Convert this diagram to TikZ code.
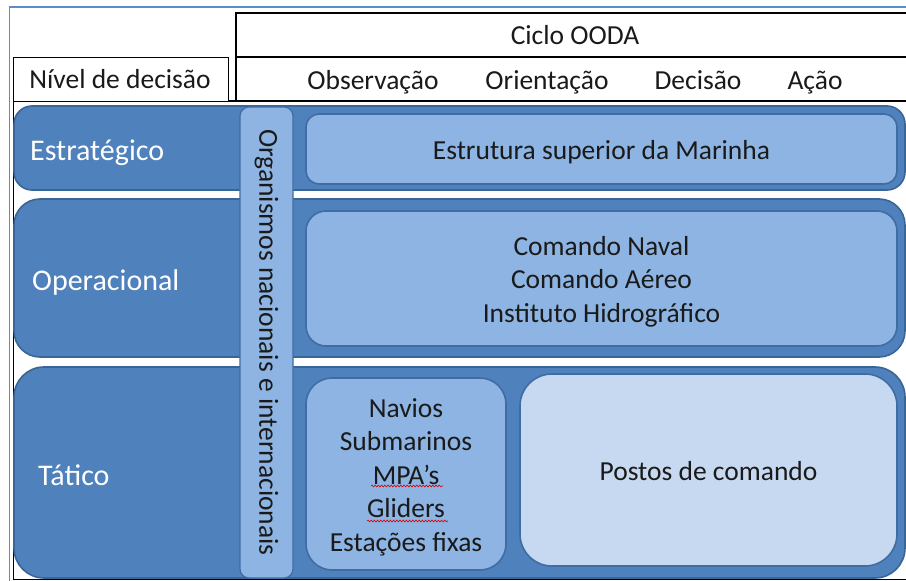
\documentclass[tikz,border=0pt]{standalone}
\usepackage{fontspec}
\setmainfont{Carlito}
\usetikzlibrary{decorations.pathmorphing}
\definecolor{rowfill}{HTML}{4F81BD}
\definecolor{rowline}{HTML}{3A6597}
\definecolor{innerfill}{HTML}{8DB4E2}
\definecolor{innerline}{HTML}{3F6CA3}
\definecolor{paler}{HTML}{C6D9F1}
\definecolor{framecol}{HTML}{5B8CD0}
\definecolor{txt}{HTML}{1A1A1A}
\tikzset{
  rowbox/.style={draw=rowline, fill=rowfill, line width=1.6pt, rectangle, inner sep=0pt, minimum width=891pt},
  innerbox/.style={draw=innerline, fill=innerfill, line width=1.6pt, rectangle, inner sep=0pt},
  boxtext/.style={align=center, text=txt, inner sep=0pt, font=\fontsize{27.5}{33.5}\selectfont, yshift=-3pt},
  rowlabel/.style={anchor=base west, text=white, inner sep=0pt, font=\fontsize{30}{36}\selectfont},
  headtext/.style={anchor=base, text=txt, inner sep=0pt, font=\fontsize{27.5}{33.5}\selectfont},
  tableline/.style={draw=black, line width=0.8pt},
  spell/.style={draw=red!85!black, line width=0.6pt, decorate, decoration={snake, amplitude=0.9pt, segment length=3.2pt}}
}
\begin{document}
\begin{tikzpicture}[x=1pt,y=-1pt]
\useasboundingbox (0,0) rectangle (906,581);
\fill[white] (0,0) rectangle (906,581);
% outer frame
\draw[framecol, line width=1.8pt] (9.5,581) -- (9.5,7) -- (906,7);
% table header
\draw[tableline] (13,57) rectangle (228,101);
\draw[tableline, line width=1.2pt] (236,101) -- (236,13) -- (906,13);
\draw[tableline, line width=1.2pt] (236,57) -- (906,57);
\draw[tableline, line width=1.6pt] (228,101) -- (906,101);
\draw[tableline, line width=0.6pt] (13,101) -- (228,101);
\draw[tableline] (13,101) -- (13,579);
\draw[tableline, line width=1.6pt] (13,579.5) -- (906,579.5);
\node[headtext] (nivel) at (120,88) {Nível de decisão};
\node[headtext] (ciclo) at (575,44) {Ciclo OODA};
\node[headtext] (obs) at (373,89) {Observação};
\node[headtext] (ori) at (547,89) {Orientação};
\node[headtext] (dec) at (698,89) {Decisão};
\node[headtext] (aca) at (815,89) {Ação};
% rows
\node[rowbox, rounded corners=18pt, minimum height=84pt] (estr) at (459.5,148) {};
\node[rowbox, rounded corners=26pt, minimum height=158pt] (oper) at (459.5,278) {};
\node[rowbox, rounded corners=30pt, minimum height=211pt] (tat) at (459.5,472.5) {};
\node[rowlabel] (lestr) at (30,160) {Estratégico};
\node[rowlabel] (loper) at (32,290) {Operacional};
\node[rowlabel] (ltat) at (38,485) {Tático};
% vertical bar
\node[draw=innerline, fill=innerfill, line width=1.2pt, rounded corners=9pt, minimum width=53pt, minimum height=471pt, inner sep=0pt] (org) at (266.5,342.5) {};
\node[text=txt, inner sep=0pt, font=\fontsize{27.5}{33.5}\selectfont, rotate=-90] (orgtxt) at (org.center) {Organismos nacionais e internacionais};
% inner boxes
\node[innerbox, rounded corners=13pt, minimum width=591pt, minimum height=70pt] (estrutura) at (601.5,149) {};
\node[boxtext] (estruturatxt) at (estrutura.center) {Estrutura superior da Marinha};
\node[innerbox, rounded corners=20pt, minimum width=591pt, minimum height=135pt] (comando) at (601.5,278.5) {};
\node[boxtext] (comandotxt) at (comando.center) {Comando Naval\\Comando Aéreo\\Instituto Hidrográfico};
\node[innerbox, rounded corners=26pt, minimum width=200pt, minimum height=192pt] (navios) at (406,474) {};
\node[boxtext] (naviostxt) at (navios.center) {Navios\\Submarinos\\MPA’s\\Gliders\\Estações fixas};
\node[innerbox, fill=paler, rounded corners=32pt, minimum width=377pt, minimum height=192pt] (postos) at (708.5,470) {};
\node[boxtext, yshift=2pt] (postostxt) at (postos.center) {Postos de comando};
% spell-check underlines
\coordinate (m1) at (371,486); \coordinate (m2) at (443,486);
\coordinate (g1) at (367,521); \coordinate (g2) at (448,521);
\draw[spell] (m1) -- (m2);
\draw[spell] (g1) -- (g2);
\end{tikzpicture}
\end{document}
